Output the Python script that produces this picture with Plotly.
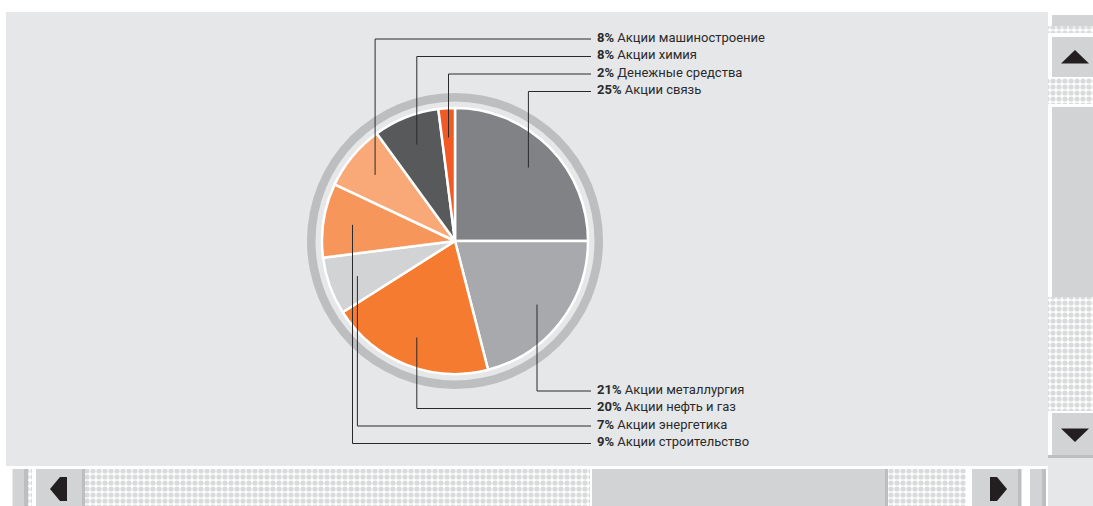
import math
import plotly.graph_objects as go

# Portfolio structure, percent of total
categories = [
    "Акции связь",
    "Акции металлургия",
    "Акции нефть и газ",
    "Акции энергетика",
    "Акции строительство",
    "Акции машиностроение",
    "Акции химия",
    "Денежные средства",
]
shares = [25, 21, 20, 7, 9, 8, 8, 2]

slice_colors = ["#808285", "#a7a9ac", "#f47b30", "#d1d3d4",
                "#f7965b", "#f9a878", "#58595b", "#f15a24"]
# which label column each slice is listed in
label_side = ["top", "bottom", "bottom", "bottom", "bottom", "top", "top", "top"]

W, H = 1093, 506
CX, CY, R = 455, 241, 133          # pie centre and radius, px
ANCHOR_FRAC = 0.78                  # leader line start, fraction of radius
LINE_END_X = 591
TEXT_X = 595
TOP_ROWS = [39, 56.5, 74, 91.5]
BOTTOM_ROWS = [391, 408.5, 426, 443.5]

PANEL = "#e6e7e8"
BOX = "#d1d3d4"
EDGE = "#bcbec0"
INK = "#2b2a2a"

fig = go.Figure()

# ---- window chrome (panel + scrollbars) in pixel space ----
shapes = []


def rect(x0, y0, x1, y1, color, layer="below"):
    shapes.append(dict(type="rect", xref="x", yref="y", x0=x0, y0=y0, x1=x1, y1=y1,
                       fillcolor=color, line=dict(width=0), layer=layer))


rect(6, 12, 1048, 466, PANEL)
# vertical scrollbar
rect(1052, 15, 1093, 26, BOX)
rect(1052, 37, 1093, 77, BOX)
rect(1052, 107, 1093, 297, BOX)
rect(1052, 413, 1093, 455, BOX)
rect(1048, 455, 1093, 458, EDGE)
rect(1048, 458, 1093, 506, PANEL)
# horizontal scrollbar
rect(12.5, 469, 24, 506, BOX)
rect(24, 469, 28, 506, EDGE)
rect(36, 469, 82, 506, BOX)
rect(82, 469, 85, 506, EDGE)
rect(592, 469, 885, 506, BOX)
rect(885, 469, 888, 506, EDGE)
rect(972, 469, 1018, 506, BOX)
rect(1018, 469, 1021.5, 506, EDGE)
rect(1030, 469, 1042, 506, BOX)
rect(1042, 469, 1046, 506, EDGE)

# dotted track areas
tracks = [(1048, 26, 1093, 33), (1048, 78, 1093, 104), (1048, 297, 1093, 411),
          (85, 469, 590, 506), (888, 469, 966, 506), (28, 469, 32, 506)]
for x0, y0, x1, y1 in tracks:
    fig.add_trace(go.Scatter(
        x=[x0, x1, x1, x0, x0], y=[y0, y0, y1, y1, y0], mode="lines",
        fill="toself", line=dict(width=0), fillcolor="#ffffff",
        fillpattern=dict(shape=".", fgcolor="#b4b6b8", bgcolor="#ffffff", size=6, solidity=0.6),
        hoverinfo="skip", showlegend=False))

# scroll arrows
arrows = [
    "M 1061,63.5 L 1075,50 L 1089,63.5 Z",
    "M 1061,428.5 L 1075,442 L 1089,428.5 Z",
    "M 50,489 L 60,477 L 67,477 L 67,501 L 60,501 Z",
    "M 1007,489 L 997,477 L 990,477 L 990,501 L 997,501 Z",
]
for p in arrows:
    shapes.append(dict(type="path", xref="x", yref="y", path=p, fillcolor="#231f20",
                       line=dict(width=0), layer="below"))

# ring around the pie
ring = [(148, EDGE), (139.5, PANEL)]
for rr, col in ring:
    shapes.append(dict(type="circle", xref="x", yref="y", x0=CX - rr, x1=CX + rr,
                       y0=CY - rr, y1=CY + rr, fillcolor=col, line=dict(width=0),
                       layer="below"))

# ---- pie ----
fig.add_trace(go.Pie(
    labels=categories, values=shares, sort=False, direction="clockwise", rotation=0,
    marker=dict(colors=slice_colors, line=dict(color="white", width=2.5)),
    textinfo="none", hoverinfo="label+percent", showlegend=False,
    domain=dict(x=[(CX - R) / W, (CX + R) / W], y=[1 - (CY + R) / H, 1 - (CY - R) / H]),
))

# ---- leader lines and labels ----
total = sum(shares)
anchors = []
cum = 0
for v in shares:
    mid = (cum + v / 2) / total * 2 * math.pi
    cum += v
    r = R * ANCHOR_FRAC
    anchors.append((CX + r * math.sin(mid), CY - r * math.cos(mid)))

top_idx = sorted([i for i, s in enumerate(label_side) if s == "top"], key=lambda i: anchors[i][0])
bot_idx = sorted([i for i, s in enumerate(label_side) if s == "bottom"], key=lambda i: -anchors[i][0])

annotations = []
for rows, idxs in ((TOP_ROWS, top_idx), (BOTTOM_ROWS, bot_idx)):
    for row_y, i in zip(rows, idxs):
        ax, ay = anchors[i]
        shapes.append(dict(type="path", xref="x", yref="y",
                           path=f"M {ax:.1f},{ay:.1f} L {ax:.1f},{row_y} L {LINE_END_X},{row_y}",
                           line=dict(color=INK, width=1), layer="above"))
        annotations.append(dict(
            x=TEXT_X, y=row_y - 2, xref="x", yref="y", xanchor="left", yanchor="middle",
            showarrow=False, text=f"<b>{shares[i]}%</b> {categories[i]}",
            font=dict(family="Roboto", size=13, color=INK)))

fig.update_layout(
    width=W, height=H, margin=dict(l=0, r=0, t=0, b=0),
    paper_bgcolor="white", plot_bgcolor="rgba(0,0,0,0)",
    xaxis=dict(range=[0, W], visible=False, domain=[0, 1], fixedrange=True),
    yaxis=dict(range=[H, 0], visible=False, domain=[0, 1], fixedrange=True),
    shapes=shapes, annotations=annotations, showlegend=False,
)

fig.write_html("out.html")
